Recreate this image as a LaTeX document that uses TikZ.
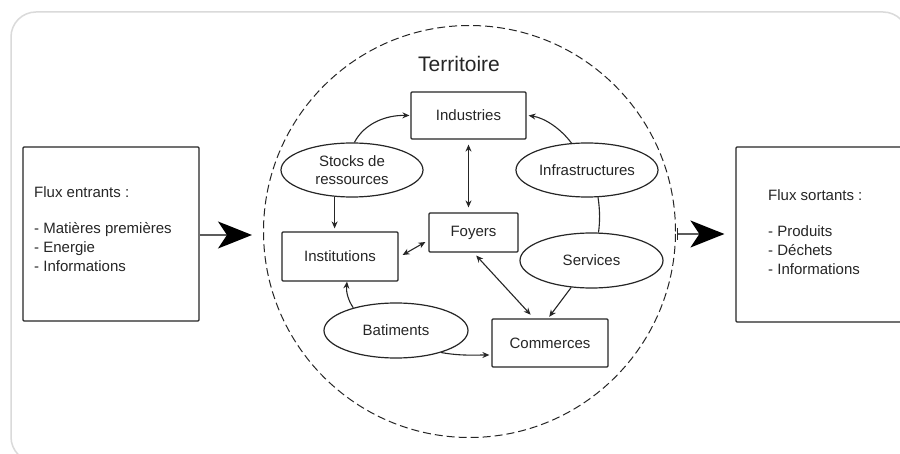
\documentclass[tikz,border=0pt]{standalone}
\usepackage{fontspec}
\setmainfont{Liberation Sans}
\usetikzlibrary{arrows.meta,shapes.geometric}
\definecolor{ink}{HTML}{262626}
\definecolor{framegray}{HTML}{DADADA}
\tikzset{
  boxnode/.style={draw=ink, line width=1.2pt, rounded corners=1pt, minimum width=#1, inner sep=0pt},
  ellnode/.style={draw=ink, line width=1.2pt, ellipse, inner sep=0pt, minimum width=142pt, minimum height=54pt, align=center, font=\fontsize{15}{18}\selectfont, text=ink},
  lbl/.style={font=\fontsize{15}{18}\selectfont, text=ink},
  link/.style={draw=ink, line width=1.1pt},
  tip/.style={-{Stealth[length=7pt,width=6pt]}},
  dtip/.style={{Stealth[length=7pt,width=6pt]}-{Stealth[length=7pt,width=6pt]}},
  bigarrow/.style={draw=ink!75, line width=1.4pt, -{Stealth[length=34pt,width=27pt,inset=9pt,color=black]}},
}
\begin{document}
\begin{tikzpicture}[x=1pt,y=-1pt]
\useasboundingbox (0,0) rectangle (900,454);
\clip (0,0) rectangle (900,454);
\fill[white] (0,0) rectangle (900,454);
% outer frame
\draw[framegray, line width=1.5pt, rounded corners=25pt] (11,12) rectangle (908,462);

% side boxes
\node[boxnode=176pt, minimum height=174pt] (inbox) at (111,234) {};
\node[lbl, anchor=north west, inner sep=0pt, align=left, font=\fontsize{15}{19}\selectfont] (intext) at (34,186)
  {Flux entrants :\\[17pt]- Matières premières\\- Energie\\- Informations};
\node[boxnode=176pt, minimum height=175pt] (outbox) at (824,234.5) {};
\node[lbl, anchor=north west, inner sep=0pt, align=left, font=\fontsize{15}{19}\selectfont] (outtext) at (768,189)
  {Flux sortants :\\[17pt]- Produits\\- Déchets\\- Informations};

% territory
\node[draw=ink, line width=1pt, dash pattern=on 8pt off 4pt, circle, minimum size=412pt, inner sep=0pt] (terr) at (469.5,231.5) {};
\node[anchor=base, font=\fontsize{21}{24}\selectfont, text=ink] (title) at (459,72) {Territoire};

% inner nodes
\node[boxnode=115pt, minimum height=47pt, lbl] (industries) at (468.5,115.5) {Industries};
\node[boxnode=89pt, minimum height=39pt, lbl] (foyers) at (473.5,232.5) {Foyers};
\node[boxnode=116pt, minimum height=49pt, lbl] (institutions) at (340,256.5) {Institutions};
\node[boxnode=116pt, minimum height=48pt, lbl] (commerces) at (550,343) {Commerces};
\node[ellnode] (stocks) at (352,170) {Stocks de\\ressources};
\node[ellnode] (infra) at (587,170) {Infrastructures};
\node[ellnode, minimum width=143pt, minimum height=55pt] (services) at (591.5,260.5) {Services};
\node[ellnode, minimum width=144pt, minimum height=55pt] (batiments) at (396,330.5) {Batiments};

% connectors
\draw[link, tip] (stocks.85) .. controls (364,124) and (385,115) .. ([xshift=-1pt]industries.west);
\draw[link, tip] (infra.120) .. controls (561,129) and (545,118) .. ([xshift=2pt]industries.east);
\draw[link, dtip, shorten <=5pt, shorten >=5pt] (industries.south) -- (industries.south |- foyers.north);
\draw[link, tip, shorten >=3pt] (stocks.237) -- (stocks.237 |- institutions.north);
\draw[link] (infra.292) .. controls (600,210) and (600,222) .. (services.76);
\draw[link, dtip] ([xshift=4pt,yshift=1.5pt]institutions.east) -- ([xshift=-3pt,yshift=-9.5pt]foyers.west);
\draw[link, dtip, shorten <=4pt, shorten >=5pt] (foyers.south) -- ([xshift=-16pt]commerces.north);
\draw[link, tip, shorten >=2pt] (services.233) -- ([xshift=-2pt]commerces.north);
\draw[link, tip] (batiments.152) .. controls (348,300) and (346,292) .. ([xshift=7pt]institutions.south);
\draw[link, tip] (batiments.334) .. controls (460,356) and (475,355) .. ([xshift=-2pt,yshift=-12pt]commerces.west);

% flows
\coordinate (inTip) at (252,235);
\coordinate (outStart) at (677,234);
\draw[bigarrow] (inbox.east |- inTip) -- (inTip);
\draw[bigarrow, shorten >=11pt] (outStart) -- (outStart -| outbox.west);
\draw[ink, line width=1pt] (677,228) -- (677,240);
\end{tikzpicture}
\end{document}
